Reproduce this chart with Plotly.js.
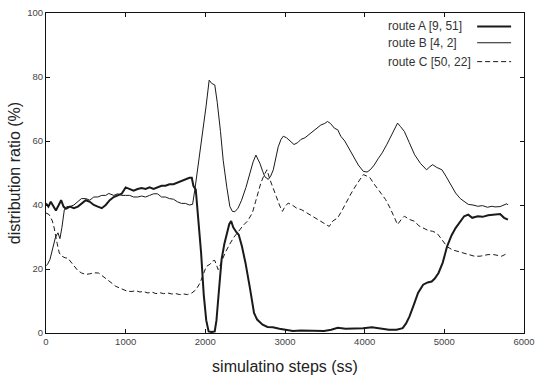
<!DOCTYPE html>
<html><head><meta charset="utf-8">
<script src="https://cdn.plot.ly/plotly-3.0.1.min.js"></script>
<style>html,body{margin:0;padding:0;background:#fff}#chart{width:535px;height:375px}</style>
</head><body><div id="chart"></div>
<script>
const seriesNames = ["route A [9, 51]", "route B [4, 2]", "route C [50, 22]"];

const routeA_x = [0,30,60,100,124,160,190,220,250,300,350,400,450,500,550,600,650,700,750,800,850,900,950,1000,1050,1100,1150,1200,1250,1300,1350,1400,1450,1500,1550,1600,1650,1700,1750,1800,1830,1850,1880,1910,1947,1980,2011,2041,2080,2118,2140,2161,2204,2240,2268,2300,2324,2350,2390,2419,2460,2504,2560,2611,2650,2719,2780,2847,2930,3019,3100,3200,3276,3400,3490,3580,3662,3760,3876,3980,4091,4200,4305,4400,4477,4520,4563,4620,4670,4734,4790,4841,4880,4927,4980,5034,5090,5141,5200,5249,5300,5350,5420,5480,5550,5635,5700,5750,5798];
const routeA_y = [40.5,39.5,41,39.5,38.3,40,41.5,39.5,38.8,39.5,39,39.5,40.5,41.5,41,40,39.5,39,40,41.5,42.5,43,43.5,45.5,45,44.5,45,45.3,45,45.5,45,45.5,46,46,46.5,46.5,47,47.5,48,48.5,48.5,46,44.8,37,25,12,4,0.5,0.3,0.5,4,10.4,23,28,31,34,35,33,31.5,30.7,27,21.9,14,6.25,4.2,2.6,1.9,1.8,1.3,1,0.6,0.8,0.8,0.6,0.6,1,1.6,1.3,1.35,1.5,1.8,1.4,1,1,1.5,3,5.2,9,12.5,15.1,15.8,16.1,17,18.75,22,27,30.5,32.8,35,36.5,37,36,36.5,36.3,36.8,37,37.2,36,35.4];

const routeB_x = [0,20,50,90,120,150,175,200,230,260,300,350,400,444,500,550,600,650,700,750,788,850,900,950,1000,1050,1100,1150,1200,1250,1300,1350,1400,1450,1500,1550,1600,1650,1700,1750,1800,1840,1868,1910,1960,2010,2048,2080,2119,2150,2190,2224,2270,2308,2340,2371,2410,2455,2510,2559,2600,2635,2660,2685,2720,2748,2790,2820,2853,2885,2915,2950,2978,3020,3070,3113,3160,3200,3250,3298,3350,3400,3450,3500,3533,3570,3620,3662,3700,3750,3812,3860,3920,3984,4030,4070,4120,4170,4220,4280,4330,4380,4413,4450,4498,4560,4627,4700,4777,4820,4854,4900,4970,5020,5080,5141,5200,5249,5300,5360,5420,5480,5540,5600,5635,5700,5750,5785,5800];
const routeB_y = [21,21.5,23,27,30,31.3,29.5,33,38.5,39.5,39.5,40,41,42,42,41.5,42.5,42.5,43,43,43.6,43,43.5,43,43,43,42.5,42.5,42.8,42.5,43,43.5,43.5,42.5,42.5,42,41.8,41,40.5,40.5,40,40.2,44.7,52,61,71,79,78,77.5,72,63,54,45.5,39.5,38,37.9,39,41.5,45.5,49.9,53.5,55.6,54.5,53,50.5,48.8,48,49,51,55,58.2,60.5,61.5,61,60,58.9,59.5,60.5,61,62,63,64,65,65.5,66.1,65.5,64,63.5,61.5,60,57.3,55,52.5,50.5,50.3,51,52.5,54.5,56.3,59,61.5,64,65.6,64.5,63,59.5,55.7,53,51,52,52.6,51.8,51,49,46.5,43.75,42,41.1,40.2,40,39.6,39.8,39.3,39.6,39.4,39.5,40,40.4,40];

const routeC_x = [0,40,80,103,140,167,200,240,274,320,360,400,446,500,550,600,660,720,780,830,875,930,980,1025,1080,1130,1180,1218,1280,1330,1380,1430,1475,1530,1580,1630,1680,1730,1775,1830,1882,1930,1970,2011,2060,2090,2118,2140,2161,2200,2247,2300,2360,2419,2470,2530,2590,2630,2660,2697,2740,2774,2810,2850,2890,2930,2967,3000,3040,3090,3147,3210,3276,3340,3405,3480,3555,3600,3662,3720,3780,3833,3900,3950,3984,4030,4070,4120,4180,4263,4320,4370,4413,4460,4498,4560,4627,4680,4734,4800,4850,4906,4960,5034,5100,5163,5230,5300,5377,5450,5549,5620,5680,5720,5760,5798];
const routeC_y = [37.5,37,35,32.8,28,25,24,23.5,23.4,22,21,19.5,18.75,18.3,18.5,18.8,18.75,17.5,16.5,15.5,14.6,14,13.5,13,13,13.2,12.8,13,12.5,12.8,12.3,12.6,12.3,12.5,12.2,12.3,12,12.2,12,12.5,13.5,15.5,18,20.8,21.5,22.5,22.7,21,19.8,22,25,27.5,30,31.8,33.5,35,37.5,41,44,46.9,49.5,51,48,45,42.7,40,38,39.5,40.6,40,39,38.5,37.5,36.5,35.4,34.5,33.3,35,36,38.5,41.5,43.75,46.5,48.5,49.5,49,48.4,46.5,44.5,41.7,39,36,33.9,35.5,36.5,35.5,34.9,33.5,32.8,32,31.8,31.25,29.5,27,26,25.5,25,24.5,24,24,24.5,24.5,24.2,24,24.5,25];

const xTicks = [0,1000,2000,3000,4000,5000,6000];
const yTicks = [0,20,40,60,80,100];

const ink = '#1a1a1a';
const styles = [
  {width: 2, dash: 'solid'},
  {width: 1, dash: 'solid'},
  {width: 1, dash: '5px,3px'}
];
const xs = [routeA_x, routeB_x, routeC_x];
const ys = [routeA_y, routeB_y, routeC_y];

const traces = xs.map((x, i) => ({
  x: x, y: ys[i], type: 'scatter', mode: 'lines', name: seriesNames[i],
  line: {color: ink, width: styles[i].width, dash: styles[i].dash, shape: 'linear'},
  showlegend: false, hoverinfo: 'skip'
}));

const legY = [0.958, 0.907, 0.848];
const annotations = seriesNames.map((n, i) => ({
  xref: 'paper', yref: 'paper', x: 0.712, y: legY[i], xanchor: 'left', yanchor: 'middle',
  text: n, showarrow: false, font: {family: 'Liberation Sans, Arial, sans-serif', size: 12, color: '#333'}
}));
const shapes = seriesNames.map((n, i) => ({
  type: 'line', xref: 'paper', yref: 'paper', x0: 0.902, x1: 0.973, y0: legY[i], y1: legY[i],
  line: {color: ink, width: styles[i].width, dash: styles[i].dash}
}));

const axisCommon = {
  showgrid: false, zeroline: false, showline: true, linecolor: '#111', linewidth: 1,
  mirror: 'allticks', ticks: 'inside', ticklen: 4, tickcolor: '#111', tickwidth: 1,
  tickfont: {family: 'Liberation Sans, Arial, sans-serif', size: 9.5, color: '#444'}
};

const layout = {
  width: 535, height: 375,
  margin: {l: 46.4, r: 11.3, t: 13.3, b: 41.7},
  paper_bgcolor: '#fff', plot_bgcolor: '#fff',
  showlegend: false,
  xaxis: Object.assign({}, axisCommon, {
    range: [0, 6000], tickvals: xTicks, ticktext: xTicks.map(String),
    title: {text: 'simulatino steps (ss)', standoff: 15, font: {family: 'Liberation Sans, Arial, sans-serif', size: 16, color: '#222'}}
  }),
  yaxis: Object.assign({}, axisCommon, {
    range: [0, 100], tickvals: yTicks, ticktext: yTicks.map(String),
    title: {text: 'distribution ratio (%)', standoff: 2, font: {family: 'Liberation Sans, Arial, sans-serif', size: 16, color: '#222'}}
  }),
  annotations: annotations,
  shapes: shapes
};

Plotly.newPlot('chart', traces, layout, {staticPlot: true, displayModeBar: false});
</script>
</body></html>
